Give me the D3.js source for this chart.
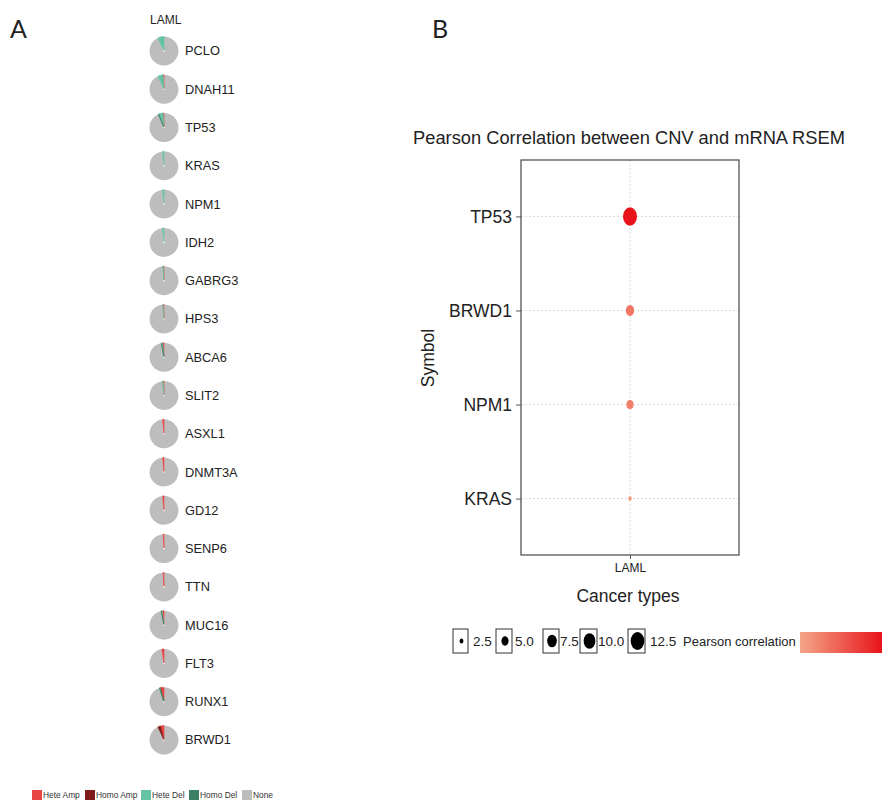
<!DOCTYPE html>
<html>
<head>
<meta charset="utf-8">
<script src="https://cdn.jsdelivr.net/npm/d3@7"></script>
<style>
  body { margin: 0; background: #fff; }
  svg { font-family: "Liberation Sans", Arial, sans-serif; }
</style>
</head>
<body>
<div id="chart"></div>
<script>
// Panel A: CNV fractions per gene in LAML
const genes = ["PCLO","DNAH11","TP53","KRAS","NPM1","IDH2","GABRG3","HPS3","ABCA6","SLIT2",
               "ASXL1","DNMT3A","GD12","SENP6","TTN","MUC16","FLT3","RUNX1","BRWD1"];
const heteAmp = [0.000,0.010,0.010,0.000,0.000,0.000,0.008,0.010,0.015,0.010,
                 0.015,0.015,0.015,0.010,0.010,0.020,0.025,0.040,0.040];
const homoAmp = [0,0,0,0,0,0,0,0,0,0,0,0,0,0,0,0,0,0.005,0.030];
const heteDel = [0.070,0.060,0.050,0.018,0.018,0.018,0.010,0.005,0.012,0.012,
                 0,0,0,0,0,0.010,0,0.004,0];
const homoDel = [0,0,0.005,0,0,0,0,0,0.003,0,0,0,0,0,0,0.003,0,0.002,0];
const cnvTypes = ["Hete Amp","Homo Amp","Hete Del","Homo Del","None"];
const cnvColors = ["#e84545","#7e1c1c","#66c2a5","#3b7f64","#bdbdbd"];

// Panel B: correlation bubbles
const symbols = ["TP53","BRWD1","NPM1","KRAS"];
const cancer = ["LAML"];
const corr = [0.60, 0.33, 0.31, 0.24];
const sizeVals = [13.0, 6.1, 4.9, 2.2];
const sizeBreaks = [2.5, 5.0, 7.5, 10.0, 12.5];

const W = 882, H = 802;
const svg = d3.select("#chart").append("svg").attr("width", W).attr("height", H);

// panel letters
svg.append("text").attr("x", 10).attr("y", 38).attr("font-size", 25)
  .attr("font-family", "Lato, sans-serif").attr("fill", "#222").text("A");
svg.append("text").attr("x", 432).attr("y", 38).attr("font-size", 25)
  .attr("font-family", "Lato, sans-serif").attr("fill", "#222").text("B");

// ---- Panel A ----
svg.append("text").attr("x", 150).attr("y", 24).attr("font-size", 12).attr("fill", "#222").text("LAML");

const yPie = d3.scalePoint().domain(genes).range([51, 740]);
const color = d3.scaleOrdinal().domain(cnvTypes).range(cnvColors);
// counterclockwise from 12 o'clock: Hete Amp, Homo Amp, Hete Del, Homo Del, None
const pie = d3.pie().sort(null).startAngle(0).endAngle(-2 * Math.PI);
const arc = d3.arc().innerRadius(0).outerRadius(14.5);

genes.forEach((g, i) => {
  const vals = [heteAmp[i], homoAmp[i], heteDel[i], homoDel[i]];
  vals.push(1 - d3.sum(vals));
  const slices = pie(vals).map((d, k) => Object.assign(d, { type: cnvTypes[k] }));
  const gp = svg.append("g").attr("transform", `translate(164,${yPie(g)})`);
  // gray part first, coloured slivers on top so they stay visible
  gp.selectAll("path")
    .data(slices.filter(d => d.value > 0).sort((a, b) => (a.type === "None" ? -1 : 0) - (b.type === "None" ? -1 : 0)))
    .enter().append("path")
    .attr("d", arc)
    .attr("fill", d => color(d.type))
    .attr("stroke", d => d.type === "None" ? "none" : color(d.type))
    .attr("stroke-width", 0.6)
    .attr("stroke-linejoin", "round");
  gp.append("circle").attr("r", 0.8).attr("fill", "#fff");
  svg.append("text").attr("x", 185).attr("y", yPie(g)).attr("dy", "0.35em")
    .attr("font-size", 12.8).attr("fill", "#222").text(g);
});

// legend A
const legX = [32, 85, 141, 189, 242];
cnvTypes.forEach((t, i) => {
  svg.append("rect").attr("x", legX[i]).attr("y", 790).attr("width", 10).attr("height", 10)
    .attr("fill", cnvColors[i]);
  svg.append("text").attr("x", legX[i] + 11).attr("y", 795).attr("dy", "0.35em")
    .attr("font-size", 8.4).attr("fill", "#333").text(t);
});

// ---- Panel B ----
const box = { l: 521, r: 739, t: 160, b: 555 };
const x = d3.scalePoint().domain(cancer).range([box.l, box.r]).padding(0.5);
const y = d3.scalePoint().domain(symbols).range([box.t, box.b]).padding(0.6);
const sizeScale = d3.scaleSqrt().domain([2, 13]).range([2, 9.2]);
const corrColor = d3.scaleLinear().domain([0.2, 0.6]).range(["#f4a688", "#e8141b"]);

svg.append("text").attr("x", 629).attr("y", 144).attr("text-anchor", "middle")
  .attr("font-size", 18.3).attr("fill", "#222").text("Pearson Correlation between CNV and mRNA RSEM");

const grid = svg.append("g");
symbols.forEach(s => {
  grid.append("line").attr("x1", box.l).attr("x2", box.r).attr("y1", y(s)).attr("y2", y(s))
    .attr("stroke", "#dcdcdc").attr("stroke-dasharray", "2,2");
});
cancer.forEach(c => {
  grid.append("line").attr("x1", x(c)).attr("x2", x(c)).attr("y1", box.t).attr("y2", box.b)
    .attr("stroke", "#dcdcdc").attr("stroke-dasharray", "2,2");
});

svg.selectAll(".dot").data(symbols).enter().append("ellipse")
  .attr("class", "dot")
  .attr("cx", x("LAML"))
  .attr("cy", d => y(d))
  .attr("rx", (d, i) => sizeScale(sizeVals[i]) * 0.76)
  .attr("ry", (d, i) => sizeScale(sizeVals[i]))
  .attr("fill", (d, i) => corrColor(corr[i]));

svg.append("rect").attr("x", box.l).attr("y", box.t).attr("width", box.r - box.l)
  .attr("height", box.b - box.t).attr("fill", "none").attr("stroke", "#555").attr("stroke-width", 1.3);

const yAxis = svg.append("g").attr("transform", `translate(${box.l},0)`)
  .call(d3.axisLeft(y).tickSize(5).tickPadding(4));
yAxis.select(".domain").remove();
yAxis.selectAll("text").attr("font-size", 17.5).attr("fill", "#222").attr("font-family", "Liberation Sans, Arial, sans-serif");
yAxis.selectAll("line").attr("stroke", "#555");

const xAxis = svg.append("g").attr("transform", `translate(0,${box.b})`)
  .call(d3.axisBottom(x).tickSize(4).tickPadding(4));
xAxis.select(".domain").remove();
xAxis.selectAll("text").attr("font-size", 12).attr("fill", "#222").attr("font-family", "Liberation Sans, Arial, sans-serif");
xAxis.selectAll("line").attr("stroke", "#555");

svg.append("text").attr("x", 628).attr("y", 602).attr("text-anchor", "middle")
  .attr("font-size", 17.5).attr("fill", "#222").text("Cancer types");
svg.append("text").attr("transform", "translate(434,358) rotate(-90)").attr("text-anchor", "middle")
  .attr("font-size", 17.5).attr("fill", "#222").text("Symbol");

// size legend
const keyX = [453, 496, 543, 580, 628];
const keyW = [15, 16, 16, 17, 17];
const labX = [473, 515, 560, 598, 650];
sizeBreaks.forEach((v, i) => {
  svg.append("rect").attr("x", keyX[i]).attr("y", 629).attr("width", keyW[i]).attr("height", 24)
    .attr("fill", "#fff").attr("stroke", "#333").attr("stroke-width", 1);
  svg.append("ellipse").attr("cx", keyX[i] + keyW[i] / 2 + 1).attr("cy", 641)
    .attr("rx", sizeScale(v) * 0.76).attr("ry", sizeScale(v)).attr("fill", "#000");
  svg.append("text").attr("x", labX[i]).attr("y", 641).attr("dy", "0.35em")
    .attr("font-size", 13.5).attr("fill", "#222").text(v.toFixed(1));
});
svg.append("text").attr("x", 683).attr("y", 641).attr("dy", "0.35em")
  .attr("font-size", 13).attr("fill", "#222").text("Pearson correlation");

const grad = svg.append("defs").append("linearGradient").attr("id", "corrGrad");
grad.append("stop").attr("offset", "0%").attr("stop-color", corrColor(0.2));
grad.append("stop").attr("offset", "100%").attr("stop-color", corrColor(0.6));
svg.append("rect").attr("x", 800).attr("y", 632).attr("width", 82).attr("height", 21)
  .attr("fill", "url(#corrGrad)");
</script>
</body>
</html>
